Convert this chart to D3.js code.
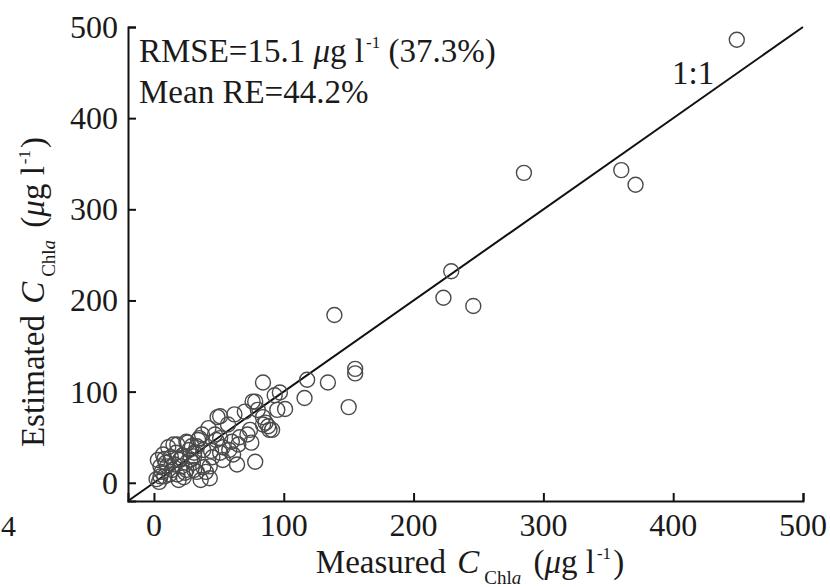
<!DOCTYPE html>
<html>
<head>
<meta charset="utf-8">
<script src="https://cdn.jsdelivr.net/npm/d3@7"></script>
<style>
  html, body { margin: 0; padding: 0; background: #fff; }
  svg { display: block; }
  text { font-family: "Liberation Serif", "Times New Roman", serif; fill: #1a1a1a; }
</style>
</head>
<body>
<svg id="chart" width="830" height="587"></svg>
<script>
// Measured vs. estimated chlorophyll-a (µg l-1)
const measured = [
  449, 285, 360, 371, 229, 223, 246, 139, 155, 155,
  134, 118, 116, 150, 101, 93, 91, 84, 78, 62,
  51, 84, 75, 78, 72, 57, 42, 48, 35, 25,
  15, 7, 3, 10, 20, 31, 43, 33, 25, 18,
  5, 38, 51, 53, 58, 47, 76, 97, 49, 89,
  74, 37, 51, 53, 65, 45, 61, 84, 66, 95,
  11, 18, 26, 34, 5, 8, 4, 14, 24, 31,
  28, 38, 36, 43, 31, 21, 2, 6, 9, 12,
  16, 22, 27, 13, 19, 23, 30, 40, 44, 29,
  8, 17, 21, 33, 70, 86, 80, 88, 64, 60
];
const estimated = [
  486, 340, 343, 327, 232, 203, 194, 184, 125, 120,
  110, 113, 93, 83, 81, 96, 58, 110, 89, 75,
  73, 64, 44, 23, 53, 64, 60, 47, 49, 45,
  42, 31, 25, 18, 25, 29, 18, 12, 14, 9,
  7, 36, 33, 25, 36, 53, 89, 99, 72, 58,
  58, 53, 49, 39, 42, 28, 31, 72, 50, 80,
  39, 42, 44, 47, 18, 7, 1, 14, 11, 14,
  25, 17, 3, 5, 33, 27, 4, 12, 22, 9,
  20, 30, 36, 28, 3, 6, 22, 12, 35, 40,
  26, 33, 18, 40, 78, 66, 80, 62, 20, 45
];
const xTicks = [0, 100, 200, 300, 400, 500];
const yTicks = [0, 100, 200, 300, 400, 500];
const oneToOne = [-20, 500];

const svg = d3.select("#chart");

const x = d3.scaleLinear().domain([-20, 500]).range([128, 803]);
const y = d3.scaleLinear().domain([-20, 500]).range([501, 27]);

// 1:1 reference line
svg.append("line")
  .attr("x1", x(oneToOne[0])).attr("y1", y(oneToOne[0]))
  .attr("x2", x(oneToOne[1])).attr("y2", y(oneToOne[1]))
  .attr("stroke", "#111").attr("stroke-width", 2);

// sample points
const pts = measured.map((m, i) => ({ m, e: estimated[i] }));
svg.append("g").selectAll("circle").data(pts).join("circle")
  .attr("cx", d => x(d.m)).attr("cy", d => y(d.e)).attr("r", 7.5)
  .attr("fill", "none").attr("stroke", "#4a4a4a").attr("stroke-width", 1.4);

// axes with inward ticks
const xAxis = d3.axisTop(x).tickValues(xTicks).tickSize(8).tickFormat("");
const gx = svg.append("g").attr("transform", `translate(0,${y(-20)})`).call(xAxis);
const yAxis = d3.axisRight(y).tickValues(yTicks).tickSize(8).tickFormat("");
const gy = svg.append("g").attr("transform", `translate(${x(-20)},0)`).call(yAxis);
[gx, gy].forEach(g => {
  g.select(".domain").attr("stroke", "#111").attr("stroke-width", 2);
  g.selectAll(".tick line").attr("stroke", "#111").attr("stroke-width", 2);
});

// tick labels
svg.append("g").selectAll("text").data(xTicks).join("text")
  .attr("x", d => x(d)).attr("y", 536)
  .attr("text-anchor", "middle").attr("font-size", 32)
  .text(d => d);
svg.append("g").selectAll("text").data(yTicks).join("text")
  .attr("x", 118).attr("y", d => y(d) + 11)
  .attr("text-anchor", "end").attr("font-size", 32)
  .text(d => d);

// axis titles
function axisTitle(sel, lead) {
  sel.append("tspan").text(lead + " ");
  sel.append("tspan").attr("dx", 3).attr("font-style", "italic").text("C");
  sel.append("tspan").attr("dx", 5).attr("font-size", 19).attr("dy", 11).text("Chl");
  sel.append("tspan").attr("font-size", 19).attr("font-style", "italic").text("a");
  sel.append("tspan").attr("dx", 4).attr("dy", -11).text(" (");
  sel.append("tspan").attr("font-style", "italic").text("\u03bc");
  sel.append("tspan").text("g l");
  sel.append("tspan").attr("dx", 2).attr("font-size", 17).attr("dy", -14).text("-1");
  sel.append("tspan").attr("dx", 2).attr("dy", 14).text(")");
}
const xt = svg.append("text").attr("x", 470).attr("y", 573)
  .attr("text-anchor", "middle").attr("font-size", 33);
axisTitle(xt, "Measured");
const yt = svg.append("text").attr("transform", "translate(44,292) rotate(-90)")
  .attr("text-anchor", "middle").attr("font-size", 33);
axisTitle(yt, "Estimated");

// statistics
const stat1 = svg.append("text").attr("x", 139).attr("y", 62).attr("font-size", 33);
stat1.append("tspan").text("RMSE=15.1 ");
stat1.append("tspan").attr("font-style", "italic").text("\u03bc");
stat1.append("tspan").text("g l");
stat1.append("tspan").attr("dx", 2).attr("font-size", 17).attr("dy", -14).text("-1");
stat1.append("tspan").attr("dy", 14).text(" (37.3%)");
svg.append("text").attr("x", 139).attr("y", 103).attr("font-size", 33).text("Mean RE=44.2%");

svg.append("text").attr("x", 672).attr("y", 84).attr("font-size", 33).text("1:1");

// panel fragment at the left edge
svg.append("text").attr("x", 1).attr("y", 536).attr("font-size", 30).text("4");
</script>
</body>
</html>
